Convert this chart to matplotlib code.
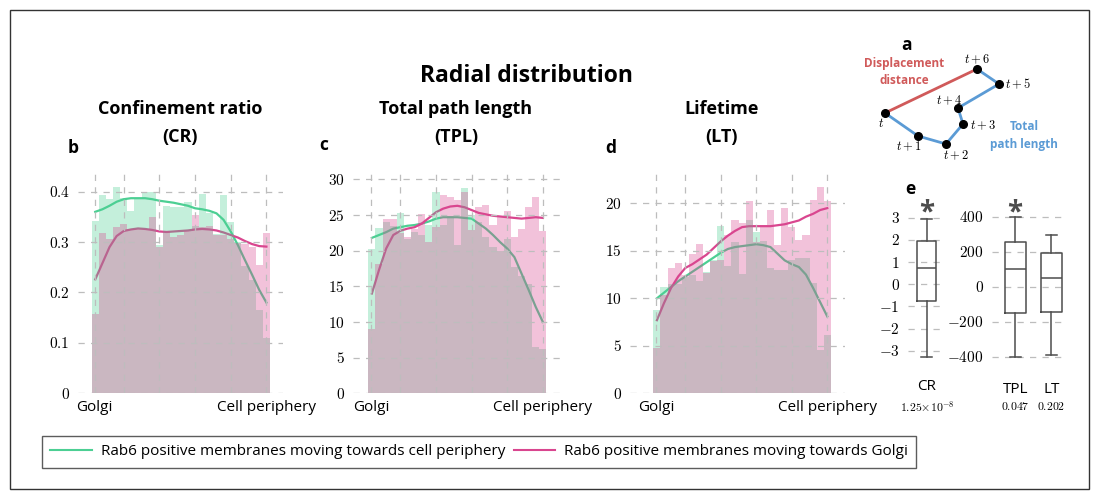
import numpy as np
import matplotlib
matplotlib.use('Agg')
import matplotlib.pyplot as plt
from matplotlib.patches import Rectangle

plt.rcParams['font.family'] = ['Open Sans', 'DejaVu Sans']
plt.rcParams['mathtext.fontset'] = 'cm'

# 25 radial bins from the Golgi out to the cell periphery
# "out" = moving towards cell periphery, "in" = moving towards Golgi
cr_out_bars = [0.342, 0.393, 0.385, 0.409, 0.387, 0.362, 0.385, 0.400, 0.400, 0.294,
               0.372, 0.370, 0.370, 0.380, 0.331, 0.395, 0.357, 0.316, 0.393, 0.339,
               0.300, 0.253, 0.225, 0.165, 0.109]
cr_in_bars = [0.157, 0.317, 0.306, 0.330, 0.336, 0.325, 0.325, 0.325, 0.350, 0.290,
              0.321, 0.311, 0.314, 0.321, 0.354, 0.330, 0.332, 0.314, 0.314, 0.306,
              0.298, 0.296, 0.290, 0.255, 0.317]
cr_out_curve = [0.360, 0.365, 0.372, 0.380, 0.385, 0.387, 0.387, 0.387, 0.385, 0.382,
                0.380, 0.378, 0.375, 0.372, 0.367, 0.365, 0.362, 0.357, 0.344, 0.321,
                0.294, 0.264, 0.235, 0.205, 0.180]
cr_in_curve = [0.226, 0.258, 0.290, 0.312, 0.322, 0.325, 0.327, 0.326, 0.324, 0.321,
               0.320, 0.321, 0.322, 0.323, 0.325, 0.326, 0.325, 0.323, 0.319, 0.314,
               0.309, 0.302, 0.296, 0.292, 0.291]

tpl_out_bars = [20.2, 23.2, 24.0, 23.5, 25.3, 21.7, 22.6, 22.2, 23.6, 28.3,
                23.6, 24.7, 20.8, 28.8, 25.0, 24.0, 21.9, 20.5, 20.0, 21.7,
                17.7, 16.5, 15.4, 6.5, 6.2]
tpl_in_bars = [9.0, 18.1, 24.5, 24.5, 22.5, 21.9, 23.0, 25.2, 21.2, 23.3,
               27.8, 27.5, 27.1, 28.2, 22.9, 26.1, 26.4, 23.6, 24.7, 25.6,
               21.9, 23.1, 26.1, 27.6, 22.8]
tpl_out_curve = [21.8, 22.2, 22.6, 23.1, 23.3, 23.5, 23.6, 23.8, 24.1, 24.5,
                 24.7, 24.7, 24.7, 24.6, 24.5, 23.8, 23.1, 22.2, 21.2, 20.3,
                 19.1, 16.8, 14.5, 12.1, 10.0]
tpl_in_curve = [14.0, 17.3, 20.3, 22.2, 22.8, 23.1, 23.3, 23.8, 24.6, 25.4,
                25.9, 26.2, 26.3, 26.1, 25.7, 25.3, 25.1, 24.9, 24.8, 24.7,
                24.6, 24.5, 24.6, 24.7, 24.6]

lt_out_bars = [8.8, 11.2, 11.5, 11.5, 12.3, 12.5, 11.8, 12.8, 14.0, 17.6,
               13.4, 15.9, 12.6, 18.3, 17.0, 16.0, 13.2, 13.0, 13.0, 14.0,
               14.2, 14.2, 11.6, 4.6, 6.1]
lt_in_bars = [4.8, 10.4, 13.2, 13.7, 12.5, 14.7, 15.7, 12.7, 13.9, 14.0,
              16.7, 18.2, 17.9, 20.3, 15.9, 17.7, 19.3, 15.6, 19.5, 17.5,
              16.1, 16.7, 20.4, 21.7, 20.2]
lt_out_curve = [10.0, 10.6, 11.2, 11.8, 12.3, 12.8, 13.3, 13.8, 14.3, 14.8,
                15.2, 15.4, 15.5, 15.6, 15.7, 15.6, 15.4, 14.7, 14.0, 13.6,
                13.3, 12.5, 11.1, 9.6, 8.1]
lt_in_curve = [7.7, 9.5, 11.1, 12.3, 13.2, 13.6, 14.1, 14.6, 15.3, 16.0,
               16.6, 17.1, 17.5, 17.6, 17.6, 17.6, 17.6, 17.7, 17.8, 18.0,
               18.2, 18.6, 18.9, 19.3, 19.5]

# differences between directions (panel e)
box_cr = dict(med=0.72, q1=-0.76, q3=1.97, whislo=-3.3, whishi=2.95)
box_tpl = dict(med=101, q1=-152, q3=254, whislo=-405, whishi=400)
box_lt = dict(med=51, q1=-143, q3=194, whislo=-390, whishi=295)
p_values = [r'$1.25{\times}10^{-8}$', r'$0.047$', r'$0.202$']
significant = [True, True, False]

# trajectory sketch (panel a), pixel coordinates
traj_x = [885, 918, 946, 963, 958, 999, 977]
traj_y = [113, 136, 144, 124, 108, 84, 69]
traj_labels = [r'$t$', r'$t+1$', r'$t+2$', r'$t+3$', r'$t+4$', r'$t+5$', r'$t+6$']
traj_label_off = [(-4, 10), (-9, 10), (10, 11), (20, 1), (-9, -8), (19, 0), (0, -10)]

W, H = 1099, 499
GREEN = '#4ccf93'
PINK = '#d9468f'
GRID = '#bdbdbd'
BOXC = '#4d4d4d'
RED = '#d05a5a'
BLUE = '#5b9bd5'
grid_ticks = [0.4, 4.5, 9.5, 14.5, 19.5, 24.5]

fig = plt.figure(figsize=(W / 100, H / 100), dpi=100)


def axes_px(left, top, right, bottom):
    return fig.add_axes([left / W, 1 - bottom / H, (right - left) / W, (bottom - top) / H])


def fig_text(x, y, s, **kw):
    fig.text(x / W, 1 - y / H, s, ha=kw.pop('ha', 'center'), va=kw.pop('va', 'center'), **kw)


def radial_panel(ax, out_bars, in_bars, out_curve, in_curve, yticks, ylim, xlim):
    idx = np.arange(len(out_bars))
    ax.plot(idx + 0.5, out_curve, color=GREEN, lw=1.6, zorder=1)
    ax.plot(idx + 0.5, in_curve, color=PINK, lw=1.6, zorder=1)
    ax.bar(idx, out_bars, width=1, align='edge', color=GREEN, alpha=0.33, lw=0, zorder=1.5)
    ax.bar(idx, in_bars, width=1, align='edge', color=PINK, alpha=0.33, lw=0, zorder=1.6)
    ax.set_xlim(*xlim)
    ax.set_ylim(*ylim)
    ax.set_xticks(grid_ticks)
    ax.set_xticklabels(['Golgi', '', '', '', '', 'Cell periphery'], fontsize=11)
    ax.set_yticks(yticks)
    ax.set_yticklabels([f'${v:g}$' for v in yticks], fontsize=11)
    ax.set_axisbelow(False)
    ax.grid(True, color=GRID, ls=(0, (5, 5)), lw=0.9)
    for s in ax.spines.values():
        s.set_visible(False)
    ax.tick_params(axis='x', length=0, pad=5)
    ax.tick_params(axis='y', length=0, pad=6)


ax_b = axes_px(78, 173, 283, 393.3)
radial_panel(ax_b, cr_out_bars, cr_in_bars, cr_out_curve, cr_in_curve,
             [0, 0.1, 0.2, 0.3, 0.4], (0, 0.437), (-1.92, 26.83))
ax_c = axes_px(353, 173, 560, 393.3)
radial_panel(ax_c, tpl_out_bars, tpl_in_bars, tpl_out_curve, tpl_in_curve,
             [0, 5, 10, 15, 20, 25, 30], (0, 30.9), (-2.15, 26.9))
ax_d = axes_px(630, 173, 845, 393.3)
radial_panel(ax_d, lt_out_bars, lt_in_bars, lt_out_curve, lt_in_curve,
             [0, 5, 10, 15, 20], (0, 23.2), (-3.29, 27.0))

# titles
fig_text(526, 76, 'Radial distribution', fontsize=16.5, fontweight='bold')
for x, name, short in [(180, 'Confinement ratio', '(CR)'), (456, 'Total path length', '(TPL)'),
                       (722, 'Lifetime', '(LT)')]:
    fig_text(x, 109, name, fontsize=13, fontweight='bold')
    fig_text(x, 137, short, fontsize=13, fontweight='bold')
for x, y, letter in [(73, 148, 'b'), (324, 145, 'c'), (611, 148, 'd'), (906, 45, 'a'), (910, 189, 'e')]:
    fig_text(x, y, letter, fontsize=12.5, fontweight='bold')


def box_panel(ax, stats, labels, yticks, ylim, xlim, width):
    pos = np.arange(1, len(stats) + 1)
    data = [dict(s, fliers=[], label=l) for s, l in zip(stats, labels)]
    style = dict(color=BOXC, lw=1.1)
    ax.bxp(data, positions=pos, widths=width, showfliers=False, capwidths=0.3,
           boxprops=style, whiskerprops=style, capprops=style, medianprops=style)
    ax.set_xlim(*xlim)
    ax.set_ylim(*ylim)
    ax.set_yticks(yticks)
    ax.set_yticklabels([f'${v:g}$' for v in yticks], fontsize=11)
    ax.set_axisbelow(True)
    ax.yaxis.grid(True, color=GRID, ls=(0, (5, 5)), lw=0.9)
    for s in ax.spines.values():
        s.set_visible(False)
    ax.tick_params(axis='y', length=0, pad=6)
    ax.tick_params(axis='x', length=0, pad=11, labelsize=11)
    return pos


ax_e1 = axes_px(908, 200, 945, 364)
box_panel(ax_e1, [box_cr], ['CR'], [-3, -2, -1, 0, 1, 2, 3], (-3.6, 3.8), (0.5, 1.5), 0.54)
ax_e2 = axes_px(992, 203, 1064, 367)
box_panel(ax_e2, [box_tpl, box_lt], ['TPL', 'LT'], [-400, -200, 0, 200, 400],
          (-460, 480), (0.35, 2.35), 0.6)

# significance stars and p-values under the boxes
for x, p, sig in zip([927, 1015, 1051], p_values, significant):
    if sig:
        fig_text(x, 213, '*', fontsize=20, fontweight='bold', color=BOXC)
    fig_text(x, 407, p, fontsize=8.5)

# trajectory sketch
ax_a = axes_px(850, 30, 1090, 170)
ax_a.set_xlim(850, 1090)
ax_a.set_ylim(170, 30)
ax_a.axis('off')
ax_a.plot([traj_x[0], traj_x[-1]], [traj_y[0], traj_y[-1]], color=RED, lw=2)
ax_a.plot(traj_x, traj_y, color=BLUE, lw=2)
ax_a.plot(traj_x, traj_y, 'o', color='black', ms=5.5)
for x, y, lab, (dx, dy) in zip(traj_x, traj_y, traj_labels, traj_label_off):
    ax_a.text(x + dx, y + dy, lab, fontsize=9, ha='center', va='center')
fig_text(904, 63, 'Displacement', fontsize=8.5, fontweight='bold', color=RED)
fig_text(904, 81, 'distance', fontsize=8.5, fontweight='bold', color=RED)
fig_text(1024, 127, 'Total', fontsize=8.5, fontweight='bold', color=BLUE)
fig_text(1024, 144, 'path length', fontsize=8.5, fontweight='bold', color=BLUE)

# legend
handles = [plt.Line2D([], [], color=GREEN, lw=1.5), plt.Line2D([], [], color=PINK, lw=1.5)]
leg = fig.legend(handles, ['Rab6 positive membranes moving towards cell periphery',
                           'Rab6 positive membranes moving towards Golgi'],
                 loc='upper left', bbox_to_anchor=(42 / W, 1 - 436 / H), ncol=2,
                 fontsize=11, frameon=True, fancybox=False, handlelength=2.7,
                 handletextpad=0.6, columnspacing=0.55, borderpad=0.55, borderaxespad=0)
leg.get_frame().set_edgecolor('#333333')
leg.get_frame().set_linewidth(1)

# outer frame
fig.patches.append(Rectangle((10 / W, 10 / H), 1079 / W, 479 / H, transform=fig.transFigure,
                             fill=False, edgecolor='#333333', lw=1))

fig.savefig('out.png', dpi=100)
